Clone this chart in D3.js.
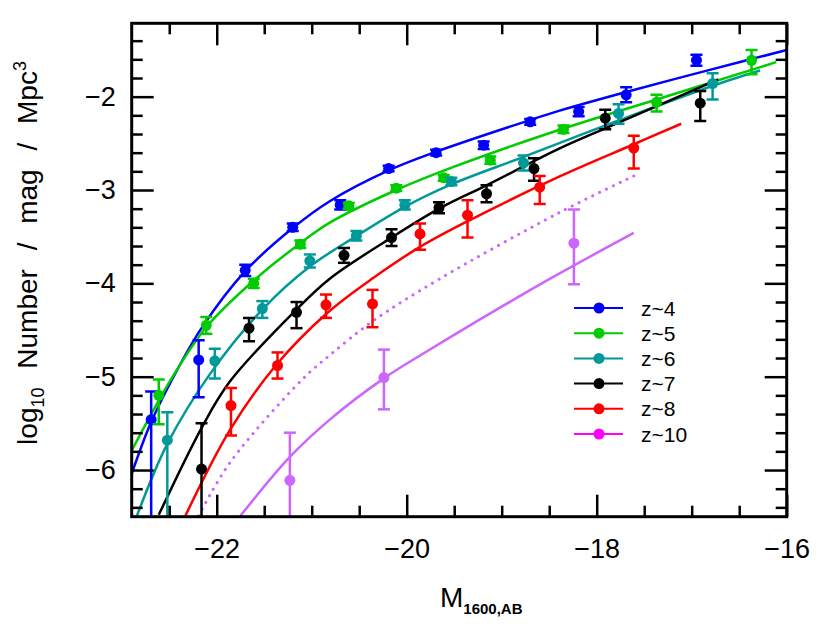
<!DOCTYPE html>
<html>
<head>
<meta charset="utf-8">
<script src="https://cdn.jsdelivr.net/npm/d3@7"></script>
<style>
  body { margin: 0; background: #fff; }
  svg text { font-family: "Liberation Sans", Arial, sans-serif; }
</style>
</head>
<body>
<div id="main"></div>
<script>
// ---- data ----
const series = ["z~4", "z~5", "z~6", "z~7", "z~8", "z~10"];

// points: M, log phi, +err, -err
const z4M   = [-22.69, -22.19, -21.70, -21.20, -20.70, -20.19, -19.69, -19.19, -18.70, -18.19, -17.69, -16.95];
const z4Phi = [-5.46, -4.82, -3.86, -3.40, -3.16, -2.77, -2.60, -2.52, -2.27, -2.16, -1.98, -1.61];
const z4Up  = [0.30, 0.21, 0.06, 0.04, 0.05, 0.03, 0.03, 0.04, 0.03, 0.05, 0.08, 0.06];
const z4Lo  = [1.5, 0.40, 0.06, 0.04, 0.05, 0.03, 0.03, 0.04, 0.03, 0.05, 0.08, 0.06];

const z5M   = [-22.61, -22.11, -21.61, -21.12, -20.61, -20.11, -19.61, -19.12, -18.35, -17.37, -16.37];
const z5Phi = [-5.20, -4.45, -4.00, -3.58, -3.17, -2.98, -2.87, -2.68, -2.35, -2.06, -1.61];
const z5Up  = [0.17, 0.09, 0.05, 0.04, 0.03, 0.03, 0.03, 0.04, 0.04, 0.08, 0.11];
const z5Lo  = [0.31, 0.09, 0.05, 0.04, 0.03, 0.03, 0.03, 0.04, 0.04, 0.10, 0.15];

const z6M   = [-22.52, -22.02, -21.52, -21.02, -20.53, -20.02, -19.53, -18.77, -17.77, -16.78];
const z6Phi = [-5.68, -4.83, -4.27, -3.76, -3.49, -3.16, -2.91, -2.71, -2.18, -1.86];
const z6Up  = [0.30, 0.13, 0.08, 0.07, 0.05, 0.05, 0.04, 0.08, 0.10, 0.11];
const z6Lo  = [1.5, 0.19, 0.10, 0.07, 0.05, 0.05, 0.04, 0.08, 0.11, 0.17];

const z7M   = [-22.16, -21.66, -21.16, -20.66, -20.16, -19.66, -19.16, -18.66, -17.91, -16.91];
const z7Phi = [-5.99, -4.48, -4.31, -3.70, -3.51, -3.19, -3.04, -2.77, -2.23, -2.07];
const z7Up  = [0.49, 0.11, 0.11, 0.08, 0.09, 0.06, 0.09, 0.11, 0.09, 0.13];
const z7Lo  = [1.5, 0.14, 0.17, 0.08, 0.09, 0.06, 0.09, 0.13, 0.12, 0.19];

const z8M   = [-21.85, -21.36, -20.85, -20.36, -19.86, -19.36, -18.60, -17.61];
const z8Phi = [-5.31, -4.88, -4.23, -4.22, -3.47, -3.27, -2.97, -2.55];
const z8Up  = [0.19, 0.14, 0.11, 0.15, 0.11, 0.16, 0.12, 0.13];
const z8Lo  = [0.32, 0.14, 0.14, 0.25, 0.17, 0.24, 0.18, 0.22];

const z10M   = [-21.23, -20.24, -18.24];
const z10Phi = [-6.11, -5.01, -3.57];
const z10Up  = [0.51, 0.30, 0.36];
const z10Lo  = [1.5, 0.34, 0.44];

// fitted curves
const c4M   = [-22.895, -22.70, -22.47, -22.16, -21.70, -21.19, -20.81, -20.19, -19.69, -18.70, -18.39, -17.69, -16.80, -16.0];
const c4Phi = [-6.04, -5.51, -5.03, -4.48, -3.87, -3.40, -3.12, -2.79, -2.59, -2.25, -2.15, -1.95, -1.71, -1.50];
const c5M   = [-22.91, -22.47, -22.11, -21.61, -21.12, -20.81, -20.11, -19.50, -18.39, -17.37, -16.11];
const c5Phi = [-5.82, -5.01, -4.47, -3.97, -3.57, -3.35, -3.00, -2.75, -2.355, -2.03, -1.63];
const c6M   = [-22.84, -22.52, -22.07, -21.51, -21.02, -20.54, -20.02, -19.53, -18.77, -17.77, -16.77, -16.28];
const c6Phi = [-6.49, -5.72, -4.97, -4.27, -3.82, -3.50, -3.18, -2.94, -2.645, -2.255, -1.88, -1.72];
const c7M   = [-22.61, -22.16, -21.86, -21.16, -20.81, -20.16, -19.65, -19.16, -18.39, -17.91, -16.72];
const c7Phi = [-6.48, -5.55, -5.05, -4.28, -3.95, -3.51, -3.195, -2.95, -2.555, -2.34, -1.815];
const c8M   = [-22.33, -21.86, -21.37, -20.84, -20.35, -19.86, -19.35, -18.39, -17.61, -17.11];
const c8Phi = [-6.49, -5.57, -4.87, -4.32, -3.94, -3.61, -3.33, -2.855, -2.51, -2.29];
const c10M   = [-21.75, -21.23, -20.81, -20.23, -19.79, -19.40, -18.49, -17.61];
const c10Phi = [-6.49, -5.86, -5.46, -5.01, -4.73, -4.49, -3.95, -3.46];
const c10dM   = [-22.19, -21.86, -21.09, -20.81, -20.35, -19.65, -18.39, -17.61];
const c10dPhi = [-6.49, -5.92, -5.02, -4.77, -4.40, -3.95, -3.24, -2.85];

const colors = ["#0000ff", "#00cc00", "#009999", "#000000", "#ff0000", "#cc66ff"];
const legendColors = ["#0000ff", "#00cc00", "#009999", "#000000", "#ff0000", "#ff00ff"];

const xMajor = [-22, -20, -18, -16];
const yMajor = [-6, -5, -4, -3, -2];

const points = [
  [z4M, z4Phi, z4Up, z4Lo], [z5M, z5Phi, z5Up, z5Lo], [z6M, z6Phi, z6Up, z6Lo],
  [z7M, z7Phi, z7Up, z7Lo], [z8M, z8Phi, z8Up, z8Lo], [z10M, z10Phi, z10Up, z10Lo]
];
const curves = [[c4M, c4Phi], [c5M, c5Phi], [c6M, c6Phi], [c7M, c7Phi], [c8M, c8Phi], [c10M, c10Phi]];

// ---- layout ----
const w = 830, h = 632;
const pLeft = 131.7, pRight = 786.7, pTop = 23.3, pBottom = 516.7;

const x = d3.scaleLinear().domain([-22.895, -16]).range([pLeft, pRight]);
const y = d3.scaleLinear().domain([-6.5, -1.214]).range([pBottom, pTop]);

const svg = d3.select("#main").append("svg").attr("width", w).attr("height", h);

svg.append("clipPath").attr("id", "clip")
  .append("rect").attr("x", pLeft).attr("y", pTop).attr("width", pRight - pLeft).attr("height", pBottom - pTop);

const plot = svg.append("g").attr("clip-path", "url(#clip)");

const line = d3.line().x(d => x(d[0])).y(d => y(d[1])).curve(d3.curveCatmullRom.alpha(0.5));

// dotted curve
plot.append("path")
  .datum(c10dM.map((m, i) => [m, c10dPhi[i]]))
  .attr("d", line)
  .attr("fill", "none")
  .attr("stroke", colors[5])
  .attr("stroke-width", 3)
  .attr("stroke-linecap", "round")
  .attr("stroke-dasharray", "0.1,7.5");

curves.forEach((c, k) => {
  plot.append("path")
    .datum(c[0].map((m, i) => [m, c[1][i]]))
    .attr("d", line)
    .attr("fill", "none")
    .attr("stroke", colors[k])
    .attr("stroke-width", 2.5);
});

// points + error bars
const cap = 6;
points.forEach((p, k) => {
  const g = plot.append("g");
  const data = p[0].map((m, i) => ({ m: m, v: p[1][i], up: p[2][i], lo: p[3][i] }));
  g.selectAll("line.bar").data(data).enter().append("line")
    .attr("x1", d => x(d.m)).attr("x2", d => x(d.m))
    .attr("y1", d => y(d.v + d.up)).attr("y2", d => y(d.v - d.lo))
    .attr("stroke", colors[k]).attr("stroke-width", 2.5);
  g.selectAll("line.capu").data(data).enter().append("line")
    .attr("x1", d => x(d.m) - cap).attr("x2", d => x(d.m) + cap)
    .attr("y1", d => y(d.v + d.up)).attr("y2", d => y(d.v + d.up))
    .attr("stroke", colors[k]).attr("stroke-width", 2.5);
  g.selectAll("line.capl").data(data).enter().append("line")
    .attr("x1", d => x(d.m) - cap).attr("x2", d => x(d.m) + cap)
    .attr("y1", d => y(d.v - d.lo)).attr("y2", d => y(d.v - d.lo))
    .attr("stroke", colors[k]).attr("stroke-width", 2.5);
  g.selectAll("circle").data(data).enter().append("circle")
    .attr("cx", d => x(d.m)).attr("cy", d => y(d.v)).attr("r", 5.5)
    .attr("fill", colors[k]);
});

// ---- axes, ticks inward on all sides ----
const xMinor = d3.range(-22.5, -16, 0.5).filter(v => xMajor.indexOf(v) < 0);
const yMinor = d3.range(-6.4, -1.2, 0.2).map(v => Math.round(v * 10) / 10).filter(v => yMajor.indexOf(v) < 0);

function styleAxis(g, size) {
  g.select(".domain").remove();
  g.selectAll(".tick line").attr("stroke", "#000").attr("stroke-width", 2.5);
  g.selectAll(".tick text").attr("fill", "#000").style("font-size", size + "px");
}

svg.append("g").attr("transform", "translate(0," + pBottom + ")")
  .call(d3.axisBottom(x).tickValues(xMajor).tickSize(-22).tickPadding(22).tickFormat(d3.format("d")))
  .call(g => styleAxis(g, 27));
svg.append("g").attr("transform", "translate(0," + pBottom + ")")
  .call(d3.axisBottom(x).tickValues(xMinor).tickSize(-11).tickFormat(""))
  .call(g => styleAxis(g, 0));
svg.append("g").attr("transform", "translate(0," + pTop + ")")
  .call(d3.axisTop(x).tickValues(xMajor).tickSize(-22).tickFormat(""))
  .call(g => styleAxis(g, 0));
svg.append("g").attr("transform", "translate(0," + pTop + ")")
  .call(d3.axisTop(x).tickValues(xMinor).tickSize(-11).tickFormat(""))
  .call(g => styleAxis(g, 0));

svg.append("g").attr("transform", "translate(" + pLeft + ",0)")
  .call(d3.axisLeft(y).tickValues(yMajor).tickSize(-22).tickPadding(16).tickFormat(d3.format("d")))
  .call(g => styleAxis(g, 27));
svg.append("g").attr("transform", "translate(" + pLeft + ",0)")
  .call(d3.axisLeft(y).tickValues(yMinor).tickSize(-11).tickFormat(""))
  .call(g => styleAxis(g, 0));
svg.append("g").attr("transform", "translate(" + pRight + ",0)")
  .call(d3.axisRight(y).tickValues(yMajor).tickSize(-22).tickFormat(""))
  .call(g => styleAxis(g, 0));
svg.append("g").attr("transform", "translate(" + pRight + ",0)")
  .call(d3.axisRight(y).tickValues(yMinor).tickSize(-11).tickFormat(""))
  .call(g => styleAxis(g, 0));

svg.append("rect")
  .attr("x", pLeft).attr("y", pTop).attr("width", pRight - pLeft).attr("height", pBottom - pTop)
  .attr("fill", "none").attr("stroke", "#000").attr("stroke-width", 3);

// ---- legend ----
const leg = svg.append("g");
series.forEach((s, i) => {
  const ly = 308 + i * 25.2;
  leg.append("line").attr("x1", 574).attr("x2", 623).attr("y1", ly).attr("y2", ly)
    .attr("stroke", legendColors[i]).attr("stroke-width", 2);
  leg.append("circle").attr("cx", 599).attr("cy", ly).attr("r", 5.5).attr("fill", legendColors[i]);
  leg.append("text").attr("x", 641).attr("y", ly + 7.5).style("font-size", "21px").text(s);
});

// ---- axis titles ----
const xt = svg.append("text").attr("x", 440).attr("y", 607).style("font-size", "28px");
xt.append("tspan").text("M");
xt.append("tspan").attr("dy", 7).style("font-size", "15px").style("font-weight", "bold").text("1600,AB");

const yt = svg.append("text")
  .attr("transform", "translate(37,253) rotate(-90)")
  .attr("text-anchor", "middle")
  .style("font-size", "28px")
  .style("word-spacing", "11px");
yt.append("tspan").text("log");
yt.append("tspan").attr("dy", 7).style("font-size", "18px").text("10");
yt.append("tspan").attr("dy", -7).text(" Number / mag / Mpc");
yt.append("tspan").attr("dy", -11).style("font-size", "18px").text("3");
</script>
</body>
</html>
